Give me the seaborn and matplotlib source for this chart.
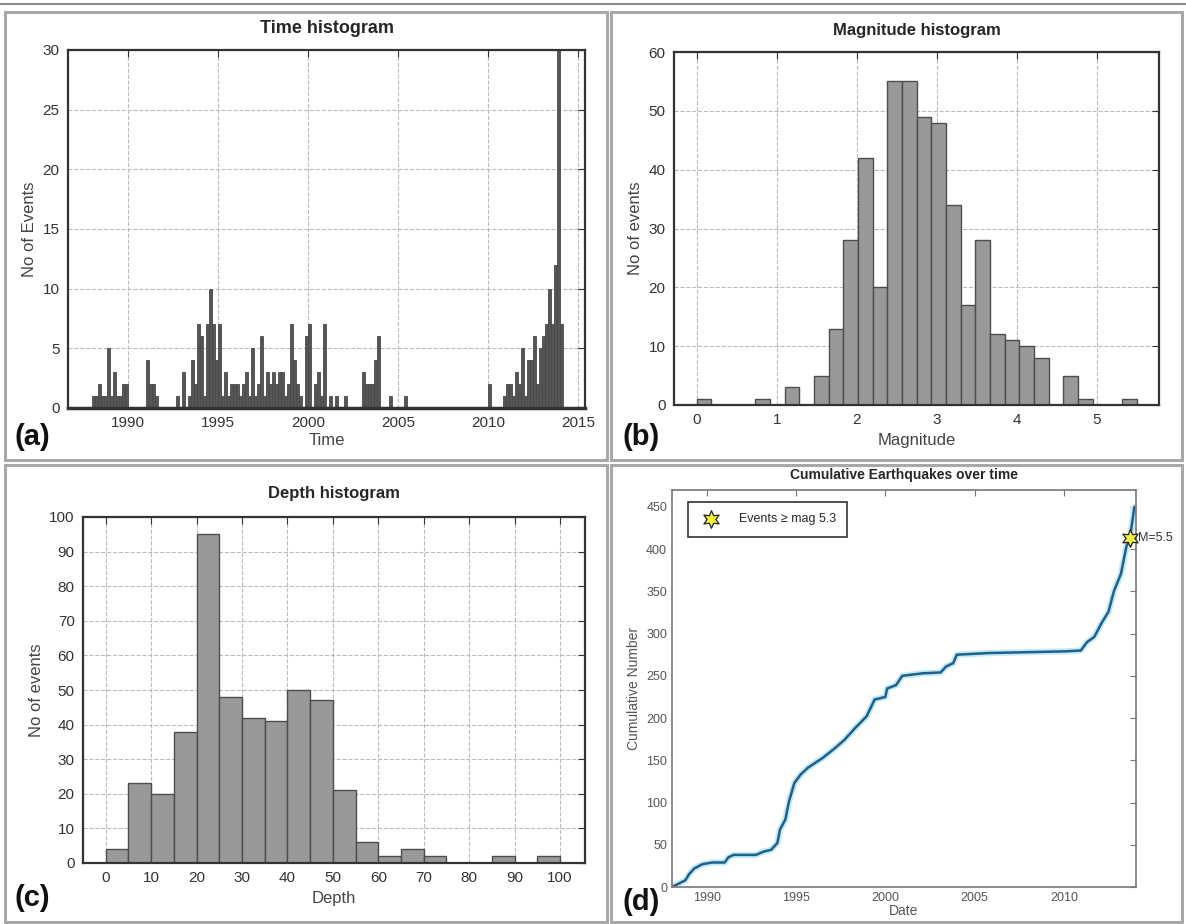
import numpy as np
import pandas as pd
import matplotlib
matplotlib.use("Agg")
import matplotlib.pyplot as plt
from matplotlib.patches import Rectangle
import seaborn as sns

# ---------------- data ----------------
# (a) Time histogram: counts per 2-month bin starting at 1988.0
time_start_year = 1988.0
time_bin_width = 1.0 / 6.0
time_counts = [
    1, 1, 2, 1, 1, 5, 1, 3, 1, 1, 2, 2,          # 1988-1989
    0, 0, 0, 0, 0, 0,                            # 1990
    4, 2, 2, 1, 0, 0,                            # 1991
    0, 0, 0, 0, 1, 0,                            # 1992
    3, 0, 1, 4, 2, 7,                            # 1993
    6, 1, 7, 10, 7, 4,                           # 1994
    7, 1, 3, 1, 2, 2,                            # 1995
    2, 1, 2, 3, 1, 5,                            # 1996
    1, 2, 6, 1, 3, 2,                            # 1997
    3, 2, 3, 3, 1, 2,                            # 1998
    7, 4, 2, 1, 0, 6,                            # 1999
    7, 0, 2, 3, 1, 7,                            # 2000
    0, 1, 0, 1, 0, 0,                            # 2001
    1, 0, 0, 0, 0, 0,                            # 2002
    3, 2, 2, 2, 4, 6,                            # 2003
    0, 0, 0, 1, 0, 0,                            # 2004
    0, 0, 1, 0, 0, 0,                            # 2005
    0, 0, 0, 0, 0, 0,                            # 2006
    0, 0, 0, 0, 0, 0,                            # 2007
    0, 0, 0, 0, 0, 0,                            # 2008
    0, 0, 0, 0, 0, 0,                            # 2009
    2, 0, 0, 0, 0, 1,                            # 2010
    2, 2, 1, 3, 2, 5,                            # 2011
    1, 4, 4, 6, 2, 5,                            # 2012
    6, 7, 10, 7, 12, 45,                         # 2013
    7,                                           # 2014
]

# (b) Magnitude histogram: 30 bins between 0 and 5.5
mag_min, mag_max, mag_nbins = 0.0, 5.5, 30
mag_counts = [1, 0, 0, 0, 1, 0, 3, 0, 5, 13, 28, 42, 20, 55, 55,
              49, 48, 34, 17, 28, 12, 11, 10, 8, 0, 5, 1, 0, 0, 1]

# (c) Depth histogram: 5 km bins 0-100
depth_bin_edges = [0, 5, 10, 15, 20, 25, 30, 35, 40, 45, 50,
                   55, 60, 65, 70, 75, 80, 85, 90, 95, 100]
depth_counts = [4, 23, 20, 38, 95, 48, 42, 41, 50, 47,
                21, 6, 2, 4, 2, 0, 0, 2, 0, 2]

# (d) Cumulative number of earthquakes
cum_dates = [1988.05, 1988.8, 1989.0, 1989.3, 1989.75, 1990.3, 1991.0, 1991.2,
             1991.5, 1992.75, 1993.2, 1993.6, 1993.95, 1994.1, 1994.4, 1994.6,
             1994.9, 1995.25, 1995.65, 1996.5, 1997.1, 1997.7, 1998.3, 1998.95,
             1999.4, 2000.0, 2000.1, 2000.6, 2000.95, 2002.1, 2003.1, 2003.4,
             2003.8, 2004.0, 2005.8, 2010.1, 2010.95, 2011.3, 2011.7, 2012.1,
             2012.5, 2012.8, 2013.2, 2013.5, 2013.7, 2013.95]
cum_counts = [0, 8, 15, 22, 27, 29, 29, 35, 38, 38, 42, 44, 52, 68, 80, 101,
              123, 133, 141, 153, 163, 174, 188, 202, 222, 225, 235, 239, 250,
              253, 254, 261, 265, 275, 277, 279, 280, 290, 296, 312, 326, 350,
              371, 403, 413, 450]
big_event_date = [2013.7]
big_event_count = [413]
big_event_mag = [5.5]
legend_label = "Events \u2265 mag 5.3"

# ---------------- style ----------------
sns.set_style("white")
plt.rcParams["font.family"] = ["Liberation Sans", "DejaVu Sans"]

W, H = 1186, 924
fig = plt.figure(figsize=(W / 100, H / 100), dpi=100)
fig.patch.set_facecolor("white")


def fbox(l, t, r, b):
    return [l / W, 1 - b / H, (r - l) / W, (b - t) / H]


# panel frames
for (l, t, r, b) in [(5, 12, 607, 460), (611, 12, 1182, 460),
                     (5, 465, 607, 922), (611, 465, 1182, 922)]:
    fig.add_artist(Rectangle((l / W, 1 - b / H), (r - l) / W, (b - t) / H,
                             transform=fig.transFigure, fill=False,
                             edgecolor="#a8a8a8", lw=2.2))
fig.add_artist(plt.Line2D([0, 1], [1 - 4 / H, 1 - 4 / H], transform=fig.transFigure,
                          color="#888888", lw=1.5))

grid_kw = dict(color="#bbbbbb", linestyle="--", linewidth=0.8)
tick_col = "#333333"
lab_col = "#444444"


def style_hist_axes(ax):
    for s in ax.spines.values():
        s.set_color("#333333")
        s.set_linewidth(1.6)
    ax.tick_params(direction="in", top=True, right=True, length=5,
                   colors=tick_col, labelsize=11, labelcolor=tick_col, pad=6)
    ax.set_axisbelow(True)
    ax.grid(True, **grid_kw)


# (a) time histogram
time_edges = [float(time_start_year + i * time_bin_width) for i in range(len(time_counts) + 1)]
df_time = pd.DataFrame({
    "t": [(a + b) / 2 for a, b in zip(time_edges[:-1], time_edges[1:])],
    "n": time_counts,
})
axa = fig.add_axes(fbox(68, 50, 585, 408))
sns.histplot(data=df_time, x="t", weights="n", bins=time_edges, ax=axa,
             color="#555555", edgecolor="#4a4a4a", linewidth=0.6, alpha=1)
axa.set_xlim(1986.67, 2015.4)
axa.set_ylim(0, 30)
axa.set_xticks([1990, 1995, 2000, 2005, 2010, 2015])
axa.set_yticks([0, 5, 10, 15, 20, 25, 30])
style_hist_axes(axa)
axa.spines["bottom"].set_linewidth(2.5)
axa.set_title("Time histogram", fontsize=13, fontweight="bold", pad=12)
axa.set_xlabel("Time", fontsize=12, color=lab_col, labelpad=2)
axa.set_ylabel("No of Events", fontsize=12, color=lab_col)

# (b) magnitude histogram
mag_edges = [float(v) for v in np.linspace(mag_min, mag_max, mag_nbins + 1)]
df_mag = pd.DataFrame({
    "m": [(a + b) / 2 for a, b in zip(mag_edges[:-1], mag_edges[1:])],
    "n": mag_counts,
})
axb = fig.add_axes(fbox(674, 52, 1159, 405))
sns.histplot(data=df_mag, x="m", weights="n", bins=mag_edges, ax=axb,
             color="#999999", edgecolor="#4d4d4d", linewidth=1.0, alpha=1)
axb.set_xlim(-0.283, 5.78)
axb.set_ylim(0, 60)
axb.set_xticks([0, 1, 2, 3, 4, 5])
axb.set_yticks([0, 10, 20, 30, 40, 50, 60])
style_hist_axes(axb)
axb.set_title("Magnitude histogram", fontsize=12, fontweight="bold", pad=12)
axb.set_xlabel("Magnitude", fontsize=12, color=lab_col, labelpad=4)
axb.set_ylabel("No of events", fontsize=12, color=lab_col)

# (c) depth histogram
df_depth = pd.DataFrame({
    "d": [(a + b) / 2 for a, b in zip(depth_bin_edges[:-1], depth_bin_edges[1:])],
    "n": depth_counts,
})
axc = fig.add_axes(fbox(83, 517, 585, 863))
sns.histplot(data=df_depth, x="d", weights="n", bins=depth_bin_edges, ax=axc,
             color="#999999", edgecolor="#4d4d4d", linewidth=1.0, alpha=1)
axc.set_xlim(-5, 105.5)
axc.set_ylim(0, 100)
axc.set_xticks(range(0, 101, 10))
axc.set_yticks(range(0, 101, 10))
style_hist_axes(axc)
axc.set_title("Depth histogram", fontsize=12, fontweight="bold", pad=14)
axc.set_xlabel("Depth", fontsize=12, color=lab_col, labelpad=4)
axc.set_ylabel("No of events", fontsize=12, color=lab_col)

# (d) cumulative
df_cum = pd.DataFrame({"date": cum_dates, "count": cum_counts})
axd = fig.add_axes(fbox(672, 490, 1136, 887))
sns.lineplot(data=df_cum, x="date", y="count", ax=axd, color="#c4e9f7", lw=4.5)
sns.lineplot(data=df_cum, x="date", y="count", ax=axd, color="#1f5f8b", lw=1.8)
axd.scatter(big_event_date, big_event_count, marker=(6, 1, 0), s=160,
            facecolor="#f3f03a", edgecolor="#222222", linewidth=0.9, zorder=5,
            label=legend_label, clip_on=False)
for xd, yd, m in zip(big_event_date, big_event_count, big_event_mag):
    axd.annotate(f"M={m}", (xd, yd), xytext=(6, 0), textcoords="offset points",
                 va="center", ha="left", fontsize=9, color="#333333",
                 annotation_clip=False)
axd.set_xlim(1988.05, 2014.04)
axd.set_ylim(0, 470)
axd.set_xticks([1990, 1995, 2000, 2005, 2010])
axd.set_yticks(range(0, 451, 50))
for s in axd.spines.values():
    s.set_color("#777777")
    s.set_linewidth(1.2)
axd.tick_params(direction="in", top=True, right=True, length=4,
                colors="#777777", labelsize=9, labelcolor="#555555")
axd.set_title("Cumulative Earthquakes over time", fontsize=10, fontweight="bold", pad=8)
axd.set_xlabel("Date", fontsize=10, color="#555555", labelpad=0)
axd.set_ylabel("Cumulative Number", fontsize=10, color="#555555")
leg = axd.legend(loc="upper left", frameon=True, fancybox=False, fontsize=9,
                 edgecolor="#333333", framealpha=1, borderpad=0.9,
                 handletextpad=1.2, bbox_to_anchor=(0.02, 0.985))
leg.get_frame().set_linewidth(1.2)

# panel letters
for txt, (px, py) in [("(a)", (14, 437)), ("(b)", (622, 437)),
                      ("(c)", (14, 898)), ("(d)", (622, 902))]:
    fig.text(px / W, 1 - py / H, txt, fontsize=21, fontweight="bold",
             ha="left", va="center", color="#111111")

fig.savefig("out.png", dpi=100, facecolor="white")
